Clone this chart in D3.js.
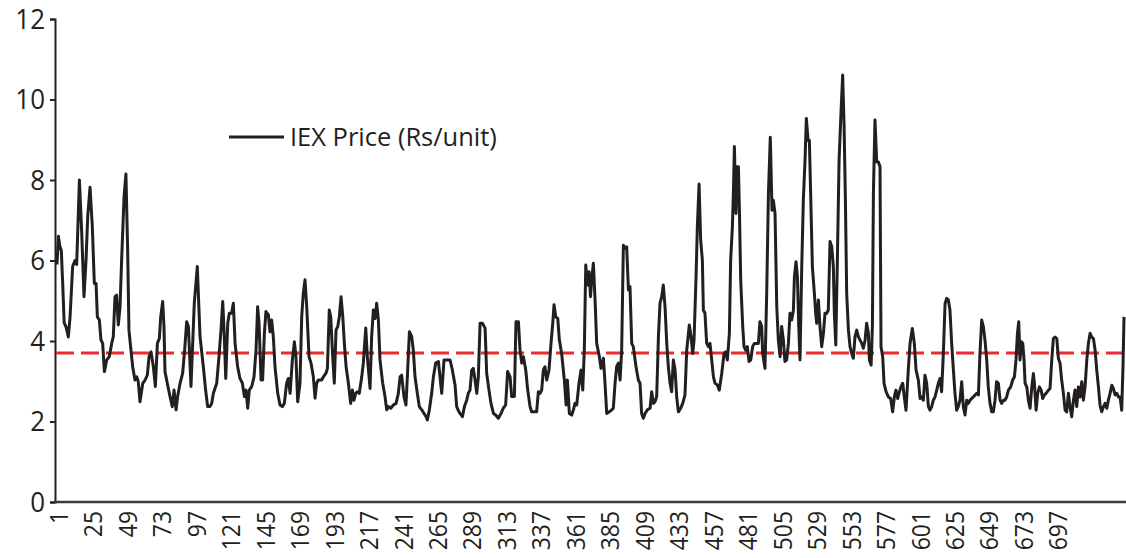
<!DOCTYPE html>
<html><head><meta charset="utf-8">
<script src="https://cdn.jsdelivr.net/npm/d3@7/dist/d3.min.js"></script>
<style>body{margin:0;background:#fff}svg{display:block}</style>
</head><body><svg id="c" width="1126" height="558"></svg>
<script>
// Hour index (1..744) and IEX price
const hours=[1,2,3,4,5,6,7.3,8.9,10.1,11.9,13.5,14.7,16.6,18.2,19.8,21.2,22.4,24,25.6,27,28.2,29.1,30.5,31.6,32.8,34,35.6,37.4,39.1,40.2,41.4,42.5,43.7,44.9,46,47.7,49,50.2,51.1,52.5,53.7,55.3,56.5,57.6,58.8,60.7,62.3,63.9,65.1,66.5,68.1,69.5,70.9,72.3,73.2,74.6,75.5,76.2,77.8,79.7,81.3,82.5,83.9,85,86.7,88.5,89.9,91.3,
92.5,94.3,96.6,98.7,100.6,102.9,104.5,105.9,107.5,108.7,109.9,112.2,113.8,115.2,116.4,117.5,118.5,119.9,121,122.6,123.8,125,126.8,128.4,130.1,131.5,132.6,133.8,134.9,136.6,138.2,139.6,140.7,141.7,143.1,144.2,145.4,146.5,148.2,149.3,150.5,151.7,152.8,154.7,156.3,157.9,159.3,160.9,162.1,163.3,164.9,166.3,167.4,168.6,170.2,171.4,172.5,173.7,174.9,176.5,177.9,179.5,180.7,181.8,183,
185.3,186.5,188.3,189.3,190.6,191.6,193,194.1,195.3,196.5,197.6,198.8,200,201.1,202.3,203.9,205.5,206.7,207.8,209,210.1,211.5,213.2,214.3,216,217.1,219,220.1,221.3,222.5,223.6,224.8,225.9,227.8,229.4,230.6,231.7,233.4,235.2,237.1,238.7,239.9,241,242.6,244,245.2,246.4,248,249.1,250.3,251.9,253.3,255,256.6,258,258.9,260.3,261.9,263.1,264.7,266.6,267.7,268.9,270.5,271.9,273.5,274.7,276.3,278.2,
279.3,280.9,283.3,284.7,286.3,287.4,288.6,289.8,290.9,292.1,293.3,294.4,295.6,297.2,299.1,300.2,301.8,303.2,304.9,306.5,308.3,310.2,311.8,313.4,314.8,316.5,317.6,319.5,320.6,322.3,323.4,324.6,325.8,327.4,328.8,330.4,331.5,332.7,335,336.2,337.4,338.5,339.7,340.8,342,343.6,345,346.2,347.1,348.3,349.7,350.8,352.4,354.3,355.5,356.4,357.8,359.4,360.6,361.7,362.9,364.5,365.9,367.1,368.2,369.2,370.3,371.5,372.5,373.5,374.5,375.7,
376.8,378.7,379.8,381.5,382.6,383.8,385.6,387.3,388.4,389.6,390.7,391.9,393.1,394.2,395.4,396.5,397.7,398.9,400,401.2,402.3,404.2,405.8,407,408.1,409.3,410.5,412.1,414,415.1,416.3,417.4,418.6,419.8,420.9,422.1,423.2,424.4,425.6,426.7,427.9,429,430.2,431.4,432.5,433.7,435.3,436.7,438.3,
439.5,441.3,442.5,443.7,444.6,446,446.9,448.1,449.2,450.4,451.1,452.2,453.4,454.6,455.7,456.9,458.1,459.2,460.8,462.2,463.9,465.5,466.6,467.8,469.2,470.1,471.3,472,472.7,473.8,474.8,475.5,476.2,477.1,478.5,479.4,480.6,481.7,482.9,484.1,485.4,486.6,488.2,489.4,490.5,491.7,492.4,494,495.2,496.4,497.7,498.9,499.8,501,502.2,503.3,504.5,505.6,506.8,507.9,509.1,510.3,511.4,512.6,513.8,514.5,515.6,516.6,517.5,518.4,519.6,520.7,521.9,522.8,524,524.9,525.8,527,528.4,529.3,530,531.2,532.3,533.5,534.7,535.8,537,538.1,539.3,540.5,541.6,542.3,543.3,
544.4,545.6,547,548.1,549.1,550,550.9,552.1,553.2,554.4,555.5,556.7,557.9,559,560.2,561.4,562.5,563.7,564.8,566,566.7,567.9,568.8,569.5,570.6,571.8,573,574.1,574.8,
576,576.9,578.3,579.9,581.5,582.9,584.1,585.2,586.4,587.6,588.7,589.9,591,592.2,593.8,595,596.6,598,599.2,600.8,602,603.1,604.3,605.4,606.6,607.8,608.9,610.1,611.2,612.4,613.6,614.7,615.9,617,618.2,619.4,620.5,621.7,622.8,624,625.2,626.3,627.5,628.6,629.8,631,632.1,633.3,634.5,635.6,636.8,637.9,639.1,640.3,641.4,642.6,643.7,644.9,646.1,647.2,648.4,649.5,650.7,651.9,653,654.2,655.3,656.5,657.7,658.8,660,661.1,662.3,663.5,
665.1,666.5,667.7,668.8,669.8,670.7,671.6,672.6,673.5,674.4,675.1,676.3,677.4,678.6,679.8,680.9,681.6,682.8,683.9,685.1,686.3,687.4,688.6,689.7,691.4,692.5,693.7,694.8,696,697.2,698.3,699.5,700.6,701.8,703,704.1,705.3,706.4,707.6,708.8,709.9,711.1,712.2,713.4,714.6,715.7,716.9,718.1,719.2,720.4,721.5,722.7,723.9,725,726.2,727.3,728.5,729.7,730.8,732,733.1,734.3,735.5,736.6,737.8,739,740.1,741.3,742.4,743.3,744];
const prices=[5.9,6.6,6.35,6.25,5.4,4.45,4.35,4.1,4.6,5.85,6.0,5.9,8.0,6.7,5.1,6.0,7.1,7.82,6.84,5.43,5.43,4.6,4.52,4.03,3.94,3.24,3.53,3.61,3.94,4.11,5.1,5.14,4.4,4.85,6.01,7.59,8.15,6.26,4.27,3.78,3.36,3.03,3.11,2.99,2.49,2.95,3.03,3.15,3.61,3.73,3.36,2.87,3.94,4.07,4.6,4.98,4.36,3.24,2.95,2.62,2.37,2.78,2.29,2.62,2.95,3.2,3.78,4.48,
4.36,2.87,4.94,5.85,4.11,3.36,2.78,2.37,2.37,2.45,2.7,2.95,3.61,4.27,4.98,4.11,3.07,4.44,4.69,4.69,4.94,3.94,3.36,3.07,2.95,2.62,2.78,2.33,2.78,2.87,3.11,3.78,4.85,4.44,3.03,3.03,4.19,4.73,4.65,4.23,4.52,4.07,3.36,2.7,2.41,2.37,2.45,2.95,3.07,2.7,3.53,3.98,3.61,2.49,2.95,4.6,5.19,5.52,4.85,3.61,3.45,3.11,2.58,2.95,3.03,
3.03,3.11,3.2,3.32,4.77,4.6,3.61,2.95,4.27,4.36,4.6,5.1,4.6,3.94,3.36,2.95,2.45,2.78,2.53,2.7,2.74,2.7,3.11,3.45,4.32,3.61,2.82,4.11,4.77,4.56,4.94,4.52,3.53,2.95,2.62,2.29,2.37,2.33,2.41,2.45,2.7,3.11,3.15,2.62,2.41,3.28,4.23,4.11,3.78,3.11,2.7,2.37,2.29,2.2,2.12,2.04,2.29,2.7,3.11,3.45,3.49,3.11,2.7,3.53,3.53,3.53,3.53,3.28,2.9,
2.37,2.24,2.12,2.37,2.53,2.7,2.78,3.28,3.32,3.03,2.7,3.11,4.44,4.44,4.32,3.2,2.78,2.45,2.2,2.16,2.08,2.2,2.33,2.41,3.24,3.11,2.62,2.62,4.48,4.48,3.78,3.45,3.61,3.28,2.78,2.37,2.24,2.24,2.24,2.74,2.7,2.78,3.28,3.36,3.03,3.28,3.94,4.44,4.9,4.6,4.56,4.03,3.69,3.03,2.41,3.03,2.2,2.16,2.29,2.45,2.41,2.95,3.28,2.78,3.78,5.89,5.39,5.72,5.1,5.6,5.93,5.0,
3.94,3.61,3.32,3.57,2.95,2.2,2.24,2.29,2.33,2.95,3.36,3.45,3.03,3.78,6.38,6.3,6.34,5.27,5.35,3.94,3.86,3.36,3.03,2.95,2.2,2.08,2.2,2.29,2.33,2.74,2.45,2.49,2.62,4.11,4.94,5.1,5.39,4.85,3.94,3.36,2.95,2.74,3.53,3.28,2.62,2.24,2.33,2.45,2.66,
3.77,4.4,4.11,3.69,4.02,5.6,6.84,7.9,6.51,6.01,4.77,4.69,3.94,3.86,3.94,3.53,3.11,2.95,2.91,2.78,3.2,3.69,3.73,3.53,4.19,6.01,6.84,7.67,8.83,7.17,8.33,8.33,7.25,5.51,4.36,3.86,3.77,3.86,3.49,3.53,3.86,3.94,3.94,3.94,4.48,4.36,3.69,3.32,5.18,7.67,9.06,7.25,7.5,7.17,4.85,4.02,3.61,4.36,4.02,3.49,3.53,3.94,4.69,4.52,4.77,5.6,5.97,5.6,4.36,3.53,5.85,7.5,8.5,9.53,8.99,8.99,7.67,5.85,5.18,4.69,4.44,5.02,4.36,3.86,4.19,4.69,4.69,4.77,6.47,6.34,5.85,4.69,3.9,
6.01,8.5,9.74,10.61,9.32,7.5,5.18,4.27,3.86,3.69,3.57,4.11,4.27,4.11,4.02,3.94,3.82,4.02,4.44,4.19,3.53,3.4,4.36,7.67,9.49,8.45,8.45,8.33,3.86,
3.6,2.95,2.74,2.61,2.57,2.24,2.61,2.78,2.57,2.74,2.86,2.95,2.61,2.28,3.28,3.94,4.31,3.94,3.28,3.03,2.57,2.61,2.53,3.15,2.95,2.37,2.28,2.37,2.53,2.61,2.78,2.95,3.07,2.74,3.69,4.93,5.06,5.02,4.77,3.94,3.28,2.7,2.28,2.37,2.53,2.99,2.37,2.16,2.53,2.45,2.53,2.57,2.61,2.66,2.7,2.66,3.69,4.52,4.35,4.02,3.53,2.86,2.45,2.24,2.24,2.53,2.99,2.95,2.53,2.45,2.53,2.53,2.61,2.78,
2.86,3.03,3.11,3.53,4.19,4.48,3.53,3.98,3.94,3.53,2.95,2.86,2.53,2.33,2.86,3.19,2.95,2.28,2.7,2.86,2.78,2.57,2.66,2.7,2.78,2.82,3.53,4.06,4.1,4.06,3.57,3.44,3.03,2.7,2.28,2.24,2.7,2.37,2.12,2.53,2.78,2.37,2.86,2.61,2.99,2.53,2.86,3.53,3.94,4.19,4.1,4.06,3.77,3.28,2.86,2.41,2.24,2.37,2.45,2.33,2.53,2.7,2.9,2.82,2.66,2.7,2.61,2.61,2.28,3.36,4.6];
const yTicks=[0,2,4,6,8,10,12];
const xTickLabels=d3.range(1,698,24);
const avgPrice=3.7;
const seriesName="IEX Price (Rs/unit)";

const svg=d3.select("#c");
const font="'Open Sans', 'Noto Sans', sans-serif";
const ink="#231f20";
const x=d3.scaleLinear().domain([1,744]).range([57,1124]);
const y=d3.scaleLinear().domain([0,12]).range([502,19]);

// y axis (line + ticks from the axis generator, labels drawn with condensed text)
const ya=svg.append("g").attr("transform","translate(55,0)")
  .call(d3.axisLeft(y).tickValues(yTicks).tickSize(5).tickFormat(""));
ya.select(".domain").attr("stroke",ink).attr("stroke-width",2);
ya.selectAll(".tick line").attr("stroke",ink).attr("stroke-width",2);
svg.append("g").selectAll("text").data(yTicks).join("text")
  .attr("transform",d=>`translate(45,${y(d)}) scale(0.96,1)`)
  .attr("text-anchor","end").attr("dy","0.36em")
  .attr("font-family",font).attr("font-size",27).attr("fill",ink)
  .text(d=>d);

// x axis
svg.append("line").attr("x1",54).attr("x2",1126).attr("y1",502).attr("y2",502)
  .attr("stroke","#3a3a3a").attr("stroke-width",2.5);
svg.append("g").selectAll("text").data(xTickLabels).join("text")
  .attr("transform",d=>`translate(${x(d)+1.5},511) rotate(-90) scale(0.88,1)`)
  .attr("text-anchor","end").attr("dy","0.36em")
  .attr("font-family",font).attr("font-size",26).attr("fill",ink)
  .text(d=>d);

// average line
svg.append("line").attr("x1",56).attr("x2",1126).attr("y1",y(avgPrice)).attr("y2",y(avgPrice))
  .attr("stroke","#ed2a2e").attr("stroke-width",3).attr("stroke-dasharray","18,7");

// price line
const pts=hours.map((h,i)=>[h,prices[i]]);
svg.append("path").datum(pts)
  .attr("fill","none").attr("stroke",ink).attr("stroke-width",3).attr("stroke-linejoin","round")
  .attr("d",d3.line().x(d=>x(d[0])).y(d=>y(d[1])));

// legend
svg.append("line").attr("x1",229).attr("x2",284).attr("y1",137).attr("y2",137)
  .attr("stroke",ink).attr("stroke-width",3);
svg.append("text").attr("transform","translate(290,137) scale(0.98,1)").attr("dy","0.36em")
  .attr("font-family",font).attr("font-size",26).attr("fill",ink).text(seriesName);
</script></body></html>
